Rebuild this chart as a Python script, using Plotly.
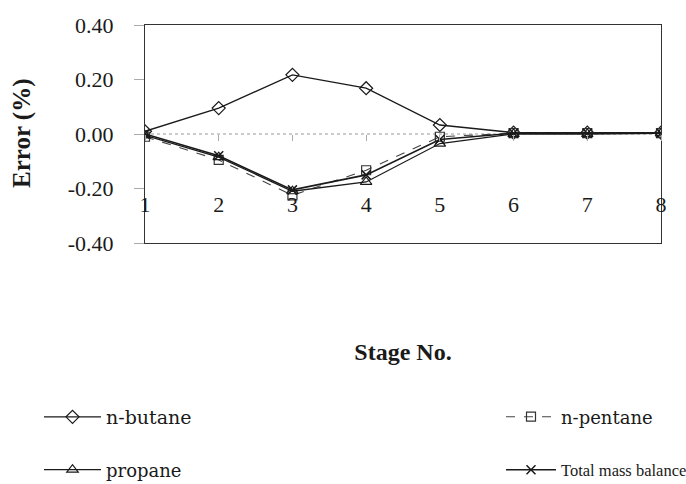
import plotly.graph_objects as go

stages = [1, 2, 3, 4, 5, 6, 7, 8]
n_butane = [0.01, 0.095, 0.217, 0.168, 0.033, 0.005, 0.005, 0.005]
n_pentane = [-0.01, -0.095, -0.225, -0.133, -0.01, 0.003, 0.003, 0.003]
propane = [-0.005, -0.085, -0.21, -0.176, -0.035, 0.0, 0.0, 0.002]
total = [0.0, -0.08, -0.205, -0.15, -0.02, 0.003, 0.003, 0.003]
y_ticks = [-0.4, -0.2, 0.0, 0.2, 0.4]

FONT = "Liberation Serif"
LEG_FONT = "DejaVu Serif"
INK = "#1a1a1a"

fig = go.Figure()
fig.add_trace(go.Scatter(x=stages, y=n_butane, name="n-butane", mode="lines+markers",
                         line=dict(color=INK, width=1.3),
                         marker=dict(symbol="diamond-open", size=10, color=INK, line=dict(width=1.2)),
                         legend="legend"))
fig.add_trace(go.Scatter(x=stages, y=n_pentane, name="n-pentane", mode="lines+markers",
                         line=dict(color="#444", width=1.1, dash="dash"),
                         marker=dict(symbol="square-open", size=9, color="#333", line=dict(width=1.2)),
                         legend="legend2"))
fig.add_trace(go.Scatter(x=stages, y=propane, name="propane", mode="lines+markers",
                         line=dict(color=INK, width=1.3),
                         marker=dict(symbol="triangle-up-open", size=10, color=INK, line=dict(width=1.2)),
                         legend="legend3"))
fig.add_trace(go.Scatter(x=stages, y=total, name="Total mass balance", mode="lines+markers",
                         line=dict(color=INK, width=1.6),
                         marker=dict(symbol="x-thin-open", size=9, color=INK, line=dict(width=1.5, color=INK)),
                         legend="legend4"))
# invisible trace to activate the labelled axis through zero
fig.add_trace(go.Scatter(x=stages, y=[None]*len(stages), xaxis="x2", showlegend=False, hoverinfo="skip"))

fig.add_shape(type="line", xref="paper", yref="y", x0=0, x1=1, y0=0, y1=0,
              line=dict(color="#999", width=1, dash="dot"), layer="below")

fig.add_annotation(text="<b>Error (%)</b>", xref="paper", yref="paper", x=(22 - 145) / 516, y=0.5,
                   xanchor="center", yanchor="middle", textangle=-90, showarrow=False,
                   font=dict(size=25, family=FONT, color=INK))


def leg(x, y, w, font, size):
    return dict(xref="container", yref="container", x=x, xanchor="left", y=y, yanchor="middle",
                itemwidth=w, font=dict(size=size, family=font), bgcolor="rgba(0,0,0,0)")


fig.update_layout(
    width=686, height=484,
    margin=dict(l=145, r=25, t=25, b=241, autoexpand=False),
    paper_bgcolor="white", plot_bgcolor="white",
    font=dict(family=FONT, color=INK, size=18),
    xaxis=dict(range=[1, 8], showline=True, mirror=True, linecolor="#333", linewidth=1,
               showgrid=False, zeroline=False, ticks="", showticklabels=False,
               title=dict(text="<b>Stage No.</b>", font=dict(size=24, family=FONT), standoff=100)),
    xaxis2=dict(range=[1, 8], overlaying="x", anchor="free", position=0.5, side="bottom",
                showline=False, showgrid=False, zeroline=False,
                tickmode="array", tickvals=stages, ticktext=[str(s) for s in stages],
                ticks="outside", ticklen=6, tickcolor="#aaa",
                ticklabelstandoff=45, tickfont=dict(size=22, family=FONT)),
    yaxis=dict(range=[-0.4, 0.4], showline=True, mirror=True, linecolor="#333", linewidth=1,
               showgrid=False, zeroline=False, tickmode="array", tickvals=y_ticks,
               ticktext=[f"{v:.2f}" for v in y_ticks], ticks="outside", ticklen=10, tickcolor="#aaa",
               ticklabelstandoff=16, tickfont=dict(size=22, family=FONT)),
    showlegend=True,
    legend=leg(39 / 686, 1 - 417 / 484, 57, LEG_FONT, 19),
    legend2=leg(501 / 686, 1 - 417 / 484, 50, LEG_FONT, 18),
    legend3=leg(39 / 686, 1 - 470 / 484, 57, LEG_FONT, 18),
    legend4=leg(501 / 686, 1 - 470 / 484, 50, FONT, 16.5),
)

fig.write_html("out.html")
